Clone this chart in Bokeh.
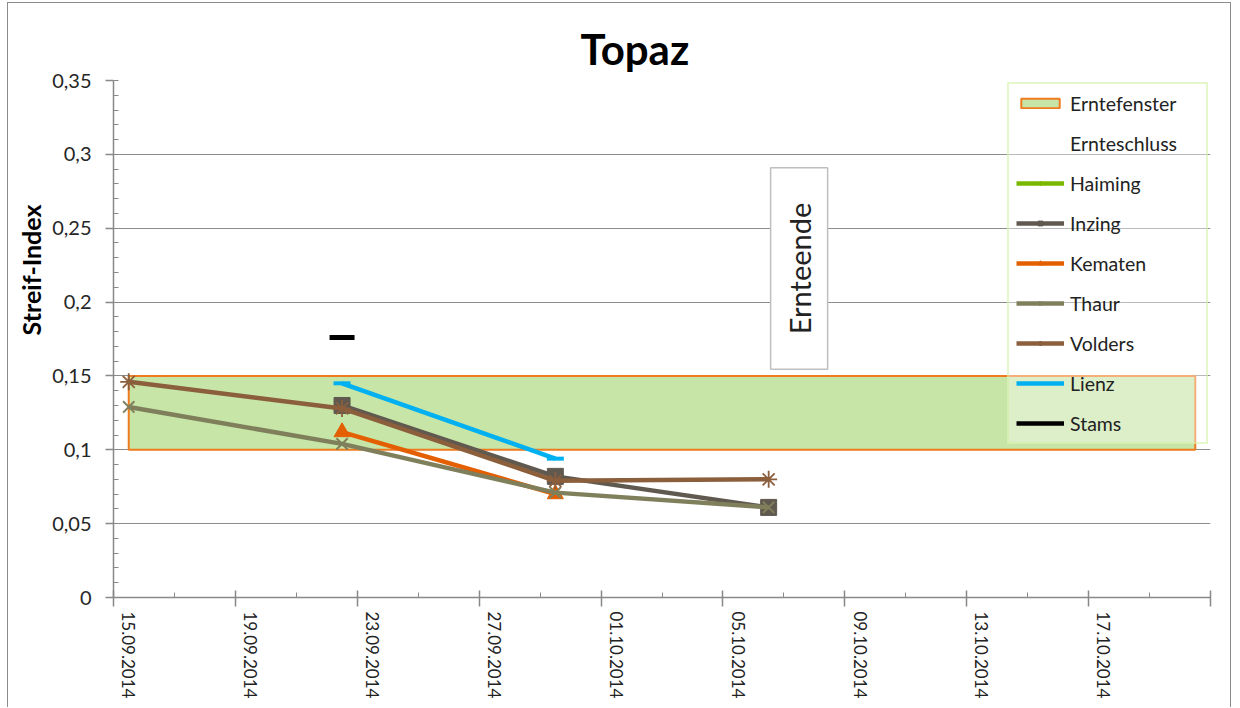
import math
import numpy as np
import pandas as pd
from bokeh.plotting import figure
from bokeh.models import Range1d, FixedTicker, Legend, LegendItem, Label, LinearAxis, Title
from bokeh.embed import file_html
from bokeh.resources import INLINE

# ---------------- data ----------------
title_text = "Topaz"
y_axis_label = "Streif-Index"

dates = ["2014-09-15", "2014-09-22", "2014-09-29", "2014-10-06"]
haiming = [np.nan, np.nan, np.nan, np.nan]
inzing = [np.nan, 0.130, 0.082, 0.061]
kematen = [np.nan, 0.112, 0.070, np.nan]
thaur = [0.129, 0.104, 0.071, 0.061]
volders = [0.146, 0.128, 0.079, 0.080]
lienz = [np.nan, 0.145, 0.094, np.nan]
stams = [np.nan, 0.176, np.nan, np.nan]

window_start = "2014-09-15"
window_end = "2014-10-20"
window_low = 0.10
window_high = 0.15

ernteschluss_date = "2014-10-07"
ernteschluss_y = 0.2227
ernteschluss_text = "Ernteende"

x_start = "2014-09-15"
x_end = "2014-10-21"
x_tick_dates = ["2014-09-15", "2014-09-19", "2014-09-23", "2014-09-27", "2014-10-01",
                "2014-10-05", "2014-10-09", "2014-10-13", "2014-10-17", "2014-10-21"]
x_tick_labels = ["15.09.2014", "19.09.2014", "23.09.2014", "27.09.2014", "01.10.2014",
                 "05.10.2014", "09.10.2014", "13.10.2014", "17.10.2014", ""]
y_ticks = [0, 0.05, 0.1, 0.15, 0.2, 0.25, 0.3, 0.35]
y_tick_labels = ["0", "0,05", "0,1", "0,15", "0,2", "0,25", "0,3", "0,35"]

legend_labels = ["Erntefenster", "Ernteschluss", "Haiming", "Inzing", "Kematen",
                 "Thaur", "Volders", "Lienz", "Stams"]

# ---------------- helpers ----------------
DAY = 86400e3


def ms(d, hours=0):
    return pd.Timestamp(d).value / 1e6 + hours * 3600e3


xs = [ms(d, 12) for d in dates]  # Excel date axis: points sit in the middle of the day

FONT = "Lato"
AX = "#898989"

p = figure(width=1224, height=705,
           x_range=Range1d(ms(x_start), ms(x_end)), y_range=Range1d(0, 0.35),
           output_backend="svg", toolbar_location=None,
           min_border_left=105, min_border_right=22, min_border_top=77, min_border_bottom=111)
p.styles = {"border-left": "1px solid #8c8c8c", "border-top": "1px solid #8c8c8c",
            "border-right": "1px solid #8c8c8c", "margin-left": "7px", "margin-top": "2px"}
p.outline_line_color = None
p.background_fill_color = "white"
p.border_fill_color = "white"

p.title.text = title_text
p.title.align = "left"
p.title.offset = 467
p.title.standoff = 14
p.title.text_font = FONT
p.title.text_font_style = "bold"
p.title.text_font_size = "42px"
p.title.text_color = "black"

# ---- x axis (tick marks) ----
major_x = [ms(d) for d in x_tick_dates]
minor_x = [ms(x_start) + i * 2 * DAY for i in range(19)]
xa = p.xaxis[0]
xa.ticker = FixedTicker(ticks=major_x, minor_ticks=minor_x)
xa.major_label_overrides = {t: "" for t in major_x}
xa.major_label_text_font_size = "0px"
xa.major_label_standoff = 0
xa.major_tick_in = 7
xa.major_tick_out = 9
xa.minor_tick_in = 5
xa.minor_tick_out = 0
xa.axis_line_color = AX
xa.axis_line_width = 1.5
xa.major_tick_line_color = AX
xa.major_tick_line_width = 1.5
xa.minor_tick_line_color = AX

# ---- x axis (labels centered on the day) ----
lab_ticks = [ms(d, 12) for d, l in zip(x_tick_dates, x_tick_labels) if l]
lab_text = [l for l in x_tick_labels if l]
xl = LinearAxis(ticker=FixedTicker(ticks=lab_ticks, minor_ticks=[]),
                major_label_overrides={t: l for t, l in zip(lab_ticks, lab_text)},
                axis_line_color=None, major_tick_line_color=None, minor_tick_line_color=None,
                major_tick_in=0, major_tick_out=0, minor_tick_in=0, minor_tick_out=0,
                major_label_orientation=-math.pi / 2, major_label_standoff=5,
                major_label_text_font=FONT, major_label_text_font_size="17px",
                major_label_text_color="#222222")
p.add_layout(xl, "below")

# ---- y axis ----
ya = p.yaxis[0]
ya.ticker = FixedTicker(ticks=y_ticks, minor_ticks=[round(i * 0.01, 2) for i in range(36)])
ya.major_label_overrides = {t: l for t, l in zip(y_ticks, y_tick_labels)}
ya.major_label_text_font = FONT
ya.major_label_text_font_size = "20px"
ya.major_label_text_color = "#262626"
ya.major_label_standoff = 14
ya.major_tick_in = 0
ya.major_tick_out = 8
ya.minor_tick_in = 5
ya.minor_tick_out = 0
ya.axis_line_color = AX
ya.axis_line_width = 1.5
ya.major_tick_line_color = AX
ya.major_tick_line_width = 1.5
ya.minor_tick_line_color = AX

# y axis title (Excel places it above the middle of the axis)
ytitle = Title(text=y_axis_label, align="left", offset=262, standoff=5,
               vertical_align="middle", text_font=FONT, text_font_style="bold",
               text_font_size="25px", text_color="black")
p.add_layout(ytitle, "left")

p.xgrid.visible = False
p.ygrid.grid_line_color = "#8c8c8c"
p.ygrid.grid_line_width = 1

# ---------------- glyphs ----------------
rect = p.quad(left=[ms(window_start, 12)], right=[ms(window_end, 12)],
              bottom=[window_low], top=[window_high],
              fill_color="#c6e5a6", line_color="#f07a1e", line_width=2)
es = p.line(x=[], y=[], line_alpha=0)

LW = 4.5
c_hai, c_inz, c_kem, c_tha, c_vol, c_lie, c_sta = (
    "#7ab800", "#5f5950", "#e35f00", "#7f7f5c", "#8b5e3c", "#00b0f0", "#000000")

hl = p.line(xs, haiming, line_color=c_hai, line_width=LW)
hs = p.scatter(xs, haiming, marker="diamond", size=12, color=c_hai)

il = p.line(xs, inzing, line_color=c_inz, line_width=LW)
is_ = p.scatter(xs, inzing, marker="square", size=16, color=c_inz)

kl = p.line(xs, kematen, line_color=c_kem, line_width=LW)
ks = p.scatter(xs, kematen, marker="triangle", size=16, color=c_kem)

tl = p.line(xs, thaur, line_color=c_tha, line_width=LW)
ts = p.scatter(xs, thaur, marker="x", size=16, line_color=c_tha, line_width=2)

vl = p.line(xs, volders, line_color=c_vol, line_width=LW)
vs = p.scatter(xs, volders, marker="asterisk", size=17, line_color=c_vol, line_width=1.8)

ll = p.line(xs, lienz, line_color=c_lie, line_width=LW)
ls = p.scatter(xs, lienz, marker="dash", size=17, line_color=c_lie, line_width=4)

sl = p.line(xs, stams, line_color=c_sta, line_width=LW)
ss = p.scatter(xs, stams, marker="dash", size=25, line_color=c_sta, line_width=5)

lbl = Label(x=ms(ernteschluss_date, 12), y=ernteschluss_y, text=ernteschluss_text,
            angle=math.pi / 2, text_align="center", text_baseline="middle",
            text_font=FONT, text_font_size="29px", text_color="#222222",
            background_fill_color="white", border_line_color="#bfbfbf",
            border_line_width=1.5, padding=(35, 11))
p.add_layout(lbl)

renderer_sets = [[rect], [es], [hl, hs], [il, is_], [kl, ks], [tl, ts], [vl, vs], [ll], [sl]]
items = [LegendItem(label=lab, renderers=r) for lab, r in zip(legend_labels, renderer_sets)]
legend = Legend(items=items, location="top_right", margin=2, padding=7, spacing=16,
                glyph_width=48, glyph_height=12, label_height=24, label_width=129,
                label_standoff=6, label_text_font=FONT, label_text_font_size="19.5px",
                label_text_color="#222222",
                background_fill_color="white", background_fill_alpha=0.4,
                border_line_color="#cdef9a", border_line_width=2)
p.add_layout(legend)

open("out.html", "w").write(file_html(p, INLINE))
